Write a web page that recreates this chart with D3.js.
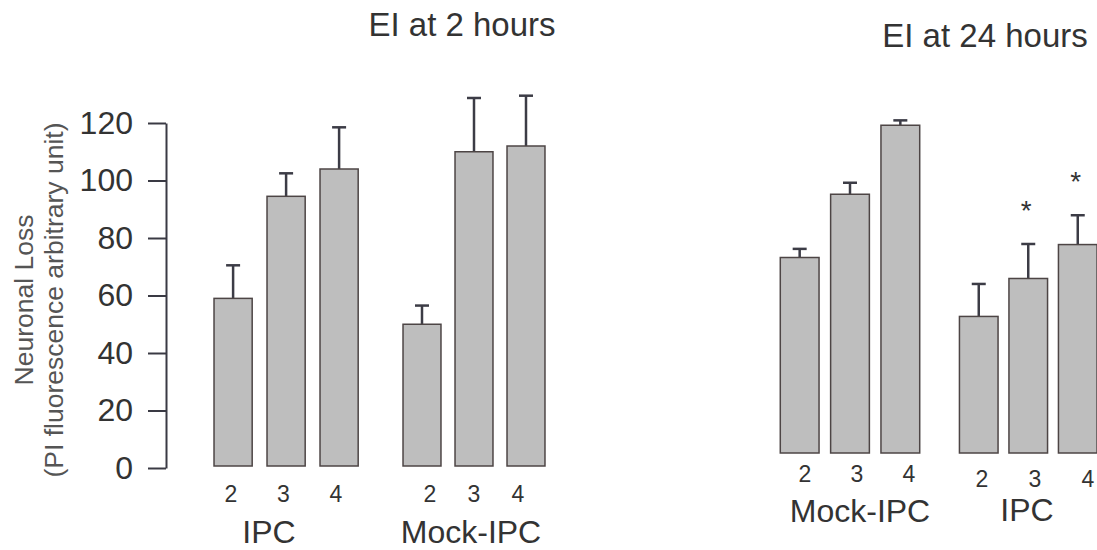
<!DOCTYPE html>
<html>
<head>
<meta charset="utf-8">
<script src="https://cdn.jsdelivr.net/npm/d3@7"></script>
<style>
  body { margin: 0; background: #fff; }
  svg text { font-family: "Liberation Sans", Arial, Helvetica, sans-serif; fill: #333; }
</style>
</head>
<body>
<svg id="chart" width="1097" height="550"></svg>
<script>
// doses on the x axis of every group
const doses = ["2", "3", "4"];
const yTicks = [0, 20, 40, 60, 80, 100, 120];

// EI at 2 hours
const ipc2h = [59, 94.5, 104];
const ipc2hErr = [11.5, 8, 14.5];
const mock2h = [50, 110, 112];
const mock2hErr = [6.5, 18.7, 17.5];

// EI at 24 hours
const mock24h = [68, 90, 114];
const mock24hErr = [3, 4, 1.7];
const ipc24h = [47.5, 60.7, 72.5];
const ipc24hErr = [11.3, 12, 10.2];
const ipc24hStar = [false, true, true];

const svg = d3.select("#chart");

// scales: left panel has an axis, right panel sits on its own baseline
const y = d3.scaleLinear().domain([0, 120]).range([468, 123]);
const yR = d3.scaleLinear().domain([0, 120]).range([453, 108]);

const groups = [
  { name: "IPC", vals: ipc2h, errs: ipc2hErr, y: y, band: [206.6, 365.6], pad: 0.28,
    labels: [231, 336], labelY: 502, nameX: 269, nameY: 543 },
  { name: "Mock-IPC", vals: mock2h, errs: mock2hErr, y: y, band: [396, 552], pad: 0.27,
    labels: [430, 518], labelY: 502, nameX: 471, nameY: 543 },
  { name: "Mock-IPC", vals: mock24h, errs: mock24hErr, y: yR, band: [774.5, 925.5], pad: 0.23,
    labels: [805, 909], labelY: 482, nameX: 860, nameY: 522 },
  { name: "IPC", vals: ipc24h, errs: ipc24hErr, y: yR, band: [954, 1102.5], pad: 0.22,
    labels: [982, 1088], labelY: 487, nameX: 1027, nameY: 521, stars: ipc24hStar }
];

groups.forEach(grp => {
  const x = d3.scaleBand().domain(doses).range(grp.band)
    .paddingInner(grp.pad).paddingOuter(grp.pad / 2);
  const xl = d3.scalePoint().domain(doses).range(grp.labels);
  const data = doses.map((d, i) => ({ dose: d, v: grp.vals[i], e: grp.errs[i],
    star: grp.stars ? grp.stars[i] : false }));
  const g = svg.append("g");

  // error bars (drawn first so the bar top covers the stem)
  const err = g.selectAll("g.err").data(data).join("g").attr("class", "err");
  err.append("line")
    .attr("x1", d => x(d.dose) + x.bandwidth() / 2)
    .attr("x2", d => x(d.dose) + x.bandwidth() / 2)
    .attr("y1", d => grp.y(d.v))
    .attr("y2", d => grp.y(d.v + d.e));
  err.append("line")
    .attr("x1", d => x(d.dose) + x.bandwidth() / 2 - 7)
    .attr("x2", d => x(d.dose) + x.bandwidth() / 2 + 7)
    .attr("y1", d => grp.y(d.v + d.e))
    .attr("y2", d => grp.y(d.v + d.e));
  err.selectAll("line").attr("stroke", "#3c3c46").attr("stroke-width", 2.5);

  g.selectAll("rect").data(data).join("rect")
    .attr("x", d => x(d.dose))
    .attr("width", x.bandwidth())
    .attr("y", d => grp.y(d.v))
    .attr("height", d => grp.y(0) - grp.y(d.v) - (grp.y === y ? 2 : 0))
    .attr("fill", "#bebebe")
    .attr("stroke", "#4d4545")
    .attr("stroke-width", 1.5);

  // significance stars
  g.selectAll("text.star").data(data.filter(d => d.star)).join("text")
    .attr("class", "star")
    .attr("x", d => x(d.dose) + x.bandwidth() / 2 - 2)
    .attr("y", d => grp.y(d.v + d.e) - 24)
    .attr("text-anchor", "middle")
    .attr("font-size", 28)
    .text("*");

  // dose labels
  g.selectAll("text.dose").data(doses).join("text")
    .attr("class", "dose")
    .attr("x", d => xl(d))
    .attr("y", grp.labelY)
    .attr("text-anchor", "middle")
    .attr("font-size", 23)
    .text(d => d);

  g.append("text")
    .attr("x", grp.nameX)
    .attr("y", grp.nameY)
    .attr("text-anchor", "middle")
    .attr("font-size", 32)
    .text(grp.name);
});

// left y axis
const axis = svg.append("g")
  .attr("transform", "translate(166,0)")
  .call(d3.axisLeft(y).tickValues(yTicks).tickSize(18).tickSizeOuter(0).tickPadding(15));
axis.selectAll("path, line").attr("stroke", "#3a3a44").attr("stroke-width", 2);
axis.selectAll("text").attr("font-size", 32).attr("fill", "#333")
  .style("font-family", '"Liberation Sans", Arial, sans-serif');

// y axis title
const yt = svg.append("g").attr("transform", "translate(0,300) rotate(-90)");
yt.append("text").attr("x", 0).attr("y", 33).attr("text-anchor", "middle")
  .attr("font-size", 26.5).style("fill", "#555").text("Neuronal Loss");
yt.append("text").attr("x", 0).attr("y", 63).attr("text-anchor", "middle")
  .attr("font-size", 26.5).style("fill", "#555").text("(PI fluorescence arbitrary unit)");

// panel titles
svg.append("text").attr("x", 462).attr("y", 36).attr("text-anchor", "middle")
  .attr("font-size", 33).text("EI at 2 hours");
svg.append("text").attr("x", 985).attr("y", 47).attr("text-anchor", "middle")
  .attr("font-size", 33).text("EI at 24 hours");
</script>
</body>
</html>
